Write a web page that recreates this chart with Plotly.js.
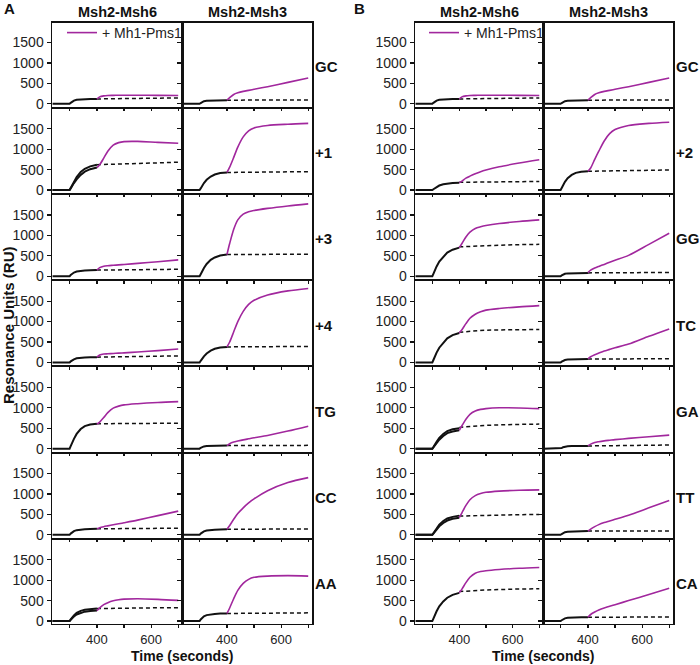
<!DOCTYPE html>
<html>
<head>
<meta charset="utf-8">
<script src="https://cdn.plot.ly/plotly-3.0.1.min.js"></script>
<style>html,body{margin:0;padding:0;background:#fff;}#chart{width:700px;height:665px;}</style>
</head>
<body>
<div id="chart"></div>
<script>
// ---------------- DATA ----------------
const T_ASSOC = [236, 299, 303, 308, 315, 325, 340, 355, 375, 400];
const T_DASH  = [400, 500, 600, 700];
const T_MAG   = [400, 410, 425, 440, 460, 480, 500, 550, 625, 700];

const PANELS = ['A', 'B'];
const PROTEINS = ['Msh2-Msh6', 'Msh2-Msh3'];
const ROWS_A = ['GC', '+1', '+3', '+4', 'TG', 'CC', 'AA'];
const ROWS_B = ['GC', '+2', 'GG', 'TC', 'GA', 'TT', 'CA'];
const LEGEND_TEXT = '+ Mh1-Pms1';

// Panel A, Msh2-Msh6
const A_MSH6_ASSOC = [
  [0,0,25,55,80,100,110,115,118,120],
  [0,0,50,120,210,320,440,520,580,620],
  [0,0,30,60,90,115,130,140,146,150],
  [0,0,25,50,75,100,115,122,127,130],
  [0,0,60,140,240,360,480,550,590,610],
  [0,0,30,60,90,115,130,138,144,148],
  [0,0,40,90,140,200,250,275,295,305]
];
const A_MSH6_ASSOC2 = [
  null,
  [0,0,40,100,170,260,370,450,510,550],
  null, null, null, null,
  [0,0,30,70,110,160,205,230,245,255]
];
const A_MSH6_DASH = [
  [120,130,140,145],[620,640,660,680],[150,158,165,170],[130,142,152,160],
  [610,620,622,622],[148,155,160,162],[305,318,322,325]
];
const A_MSH6_MLH1 = [
  [118,170,195,205,208,210,210,210,208,205],
  [550,620,780,950,1100,1160,1185,1190,1165,1145],
  [150,210,245,258,268,278,288,315,355,400],
  [130,180,205,212,220,228,235,255,290,330],
  [600,650,760,880,990,1040,1070,1100,1130,1150],
  [148,175,200,220,245,270,295,360,470,580],
  [255,320,400,450,495,520,535,545,530,505]
];

// Panel A, Msh2-Msh3
const A_MSH3_ASSOC = [
  [0,0,20,45,65,75,80,83,86,88],
  [0,0,40,100,170,250,330,380,415,430],
  [0,0,50,120,200,300,400,460,505,530],
  [0,0,40,90,150,220,290,335,365,380],
  [0,0,20,40,55,65,70,72,74,75],
  [0,0,30,60,85,105,120,127,132,135],
  [0,0,40,80,115,145,165,175,182,185]
];
const A_MSH3_ASSOC2 = [null, null, null, null, null, null, null];
const A_MSH3_DASH = [
  [90,95,95,95],[430,440,445,450],[530,535,540,540],[380,385,390,392],
  [75,76,78,80],[135,140,142,145],[185,195,200,200]
];
const A_MSH3_MLH1 = [
  [90,150,230,270,305,330,355,420,525,630],
  [430,560,800,1050,1300,1450,1520,1580,1610,1630],
  [530,800,1150,1380,1520,1580,1610,1660,1720,1770],
  [380,500,750,1000,1250,1420,1520,1650,1750,1810],
  [75,120,160,185,215,240,265,320,430,550],
  [135,230,380,520,660,780,880,1080,1280,1400],
  [185,320,550,750,920,1020,1070,1100,1110,1100]
];

// Panel B, Msh2-Msh6
const B_MSH6_ASSOC = [
  [0,0,25,55,80,100,110,115,118,120],
  [0,0,20,45,75,110,140,160,172,180],
  [0,0,60,140,240,360,480,580,650,700],
  [0,0,60,140,240,360,490,590,670,720],
  [0,0,40,100,170,260,360,430,475,500],
  [0,0,40,95,160,250,340,400,440,470],
  [0,0,60,140,240,360,480,570,640,690]
];
const B_MSH6_ASSOC2 = [
  null, null, null, null,
  [0,0,30,80,140,220,310,380,420,450],
  [0,0,30,75,130,210,290,350,395,420],
  null
];
const B_MSH6_DASH = [
  [120,130,140,145],[190,200,205,210],[720,750,770,780],[740,790,800,805],
  [520,570,590,600],[460,480,490,500],[720,760,780,790]
];
const B_MSH6_MLH1 = [
  [118,170,195,205,208,210,210,210,208,205],
  [180,220,290,340,400,450,490,570,660,740],
  [700,800,960,1080,1170,1210,1240,1290,1340,1380],
  [720,800,950,1080,1180,1240,1280,1320,1360,1390],
  [450,560,720,840,920,960,980,1000,995,980],
  [420,540,720,860,960,1010,1040,1070,1090,1100],
  [690,780,940,1070,1170,1210,1230,1260,1290,1310]
];

// Panel B, Msh2-Msh3
const B_MSH3_ASSOC = [
  [0,0,20,45,65,75,80,83,86,88],
  [0,0,50,120,200,290,370,420,450,460],
  [0,0,20,45,60,70,75,78,80,82],
  [0,0,20,45,60,70,75,78,80,82],
  [0,0,15,35,50,58,62,64,65,66],
  [0,0,20,45,65,78,85,88,90,92],
  [0,0,20,45,65,78,85,88,90,92]
];
const B_MSH3_ASSOC2 = [null, null, null, null, null, null, null];
const B_MSH3_DASH = [
  [90,95,95,95],[460,470,480,490],[82,88,90,92],[82,88,90,92],
  [66,75,82,88],[92,95,95,95],[92,95,98,100]
];
const B_MSH3_MLH1 = [
  [90,150,230,270,305,330,355,420,525,630],
  [460,540,750,950,1200,1380,1480,1580,1630,1660],
  [90,150,200,240,290,340,390,510,780,1050],
  [90,140,190,230,280,320,360,450,640,820],
  [70,110,150,170,190,205,220,250,290,330],
  [92,140,200,250,300,340,380,480,660,840],
  [92,160,220,270,320,360,400,500,650,800]
];

const X_TICKVALS = [300, 400, 500, 600, 700];
const X_TICKTEXT = ['', '400', '', '600', ''];
const Y_TICKVALS = [0, 500, 1000, 1500];

// ---------------- LAYOUT ----------------
const W = 700, H = 665;
const FONT = 'Arial, "Liberation Sans", Helvetica, sans-serif';
const MAGENTA = '#a1279d';
const COL_PX = [[52,182],[182,312],[415,543],[543,673]];
const ROW_TOP = 22.5, ROW_PITCH = 86.2, ROW_H = 84.2;

const DATA = [
  [[A_MSH6_ASSOC, A_MSH6_ASSOC2, A_MSH6_DASH, A_MSH6_MLH1], [A_MSH3_ASSOC, A_MSH3_ASSOC2, A_MSH3_DASH, A_MSH3_MLH1]],
  [[B_MSH6_ASSOC, B_MSH6_ASSOC2, B_MSH6_DASH, B_MSH6_MLH1], [B_MSH3_ASSOC, B_MSH3_ASSOC2, B_MSH3_DASH, B_MSH3_MLH1]]
];
const ROWNAMES = [ROWS_A, ROWS_B];

const traces = [];
const layout = {
  width: W, height: H,
  margin: {l: 0, r: 0, t: 0, b: 0},
  paper_bgcolor: '#fff', plot_bgcolor: '#fff',
  font: {family: FONT, color: '#222', size: 14},
  showlegend: true,
  annotations: [],
  legend: {x: 62/W, y: 1 - 33/H, xanchor: 'left', yanchor: 'middle', bgcolor: 'rgba(0,0,0,0)',
           font: {family: FONT, size: 14, color: '#222'}, itemwidth: 30, tracegroupgap: 0},
  legend2: {x: 424/W, y: 1 - 33/H, xanchor: 'left', yanchor: 'middle', bgcolor: 'rgba(0,0,0,0)',
           font: {family: FONT, size: 14, color: '#222'}, itemwidth: 30, tracegroupgap: 0}
};

let n = 0;
for (let p = 0; p < 2; p++) {
  for (let c = 0; c < 2; c++) {
    const [assoc, assoc2, dash, mlh] = DATA[p][c];
    const [px0, px1] = COL_PX[p*2 + c];
    for (let r = 0; r < 7; r++) {
      n++;
      const xa = 'x' + n, ya = 'y' + n;
      const top = ROW_TOP + ROW_PITCH * r, bot = top + ROW_H;
      layout['xaxis' + n] = {
        domain: [px0/W, px1/W], anchor: ya, range: [234, 714],
        tickvals: X_TICKVALS, ticktext: X_TICKTEXT, showticklabels: r === 6,
        ticks: 'outside', ticklen: 3, tickwidth: 1.2, tickcolor: '#111',
        showline: true, mirror: true, linecolor: '#111', linewidth: 1.5,
        showgrid: false, zeroline: false, fixedrange: true,
        tickfont: {family: FONT, size: 13, color: '#222'}
      };
      layout['yaxis' + n] = {
        domain: [1 - bot/H, 1 - top/H], anchor: xa, range: [-70, 1990],
        tickvals: Y_TICKVALS, showticklabels: c === 0,
        ticks: 'outside', ticklen: 4, tickwidth: 1.2, tickcolor: '#111',
        showline: true, mirror: true, linecolor: '#111', linewidth: 1.5,
        showgrid: false, zeroline: false, fixedrange: true,
        tickfont: {family: FONT, size: 14, color: '#222'}
      };
      traces.push({x: T_ASSOC, y: assoc[r], xaxis: xa, yaxis: ya, mode: 'lines',
        line: {color: '#111', width: 2}, showlegend: false, hoverinfo: 'skip'});
      if (assoc2[r]) traces.push({x: T_ASSOC, y: assoc2[r], xaxis: xa, yaxis: ya, mode: 'lines',
        line: {color: '#111', width: 2}, showlegend: false, hoverinfo: 'skip'});
      traces.push({x: T_DASH, y: dash[r], xaxis: xa, yaxis: ya, mode: 'lines',
        line: {color: '#111', width: 1.5, dash: '4px,3px'}, showlegend: false, hoverinfo: 'skip'});
      traces.push({x: T_MAG, y: mlh[r], xaxis: xa, yaxis: ya, mode: 'lines',
        line: {color: MAGENTA, width: 1.6, shape: 'spline', smoothing: 0.8},
        name: LEGEND_TEXT, showlegend: (c === 0 && r === 0),
        legend: p === 0 ? 'legend' : 'legend2', hoverinfo: 'skip'});
      if (c === 1) {
        layout.annotations.push({xref: 'paper', yref: 'paper', x: (px1 + 2)/W, y: 1 - (top + 44)/H,
          xanchor: 'left', yanchor: 'middle', showarrow: false, borderpad: 0,
          text: '<b>' + ROWNAMES[p][r] + '</b>',
          font: {family: FONT, size: 15, color: '#111'}});
      }
    }
    // column header
    layout.annotations.push({xref: 'paper', yref: 'paper', x: ((px0 + px1)/2)/W, y: 1 - 12/H,
      xanchor: 'center', yanchor: 'middle', showarrow: false, text: '<b>' + PROTEINS[c] + '</b>',
      font: {family: FONT, size: 14.5, color: '#111'}});
  }
  // panel letter
  layout.annotations.push({xref: 'paper', yref: 'paper', x: (p === 0 ? 2 : 352)/W, y: 1 - 8/H,
    xanchor: 'left', yanchor: 'middle', showarrow: false, text: '<b>' + PANELS[p] + '</b>',
    font: {family: FONT, size: 15, color: '#111'}});
  // x title
  layout.annotations.push({xref: 'paper', yref: 'paper', x: (p === 0 ? 182 : 543)/W, y: 0,
    xanchor: 'center', yanchor: 'bottom', showarrow: false, borderpad: 0, text: '<b>Time (seconds)</b>',
    font: {family: FONT, size: 14, color: '#111'}});
}
// y title
layout.annotations.push({xref: 'paper', yref: 'paper', x: 8/W, y: 1 - 325/H,
  xanchor: 'center', yanchor: 'middle', showarrow: false, textangle: -90, borderpad: 0,
  text: '<b>Resonance Units (RU)</b>', font: {family: FONT, size: 15, color: '#111'}});

Plotly.newPlot('chart', traces, layout, {displayModeBar: false, staticPlot: true});
</script>
</body>
</html>
